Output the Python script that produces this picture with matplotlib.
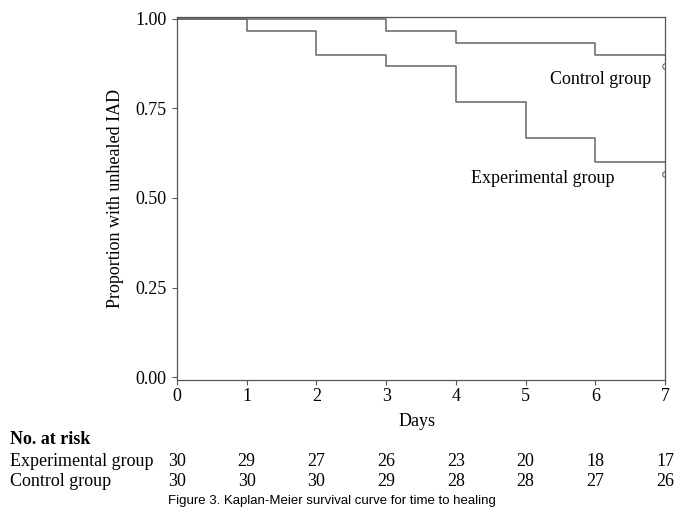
import matplotlib
matplotlib.use("Agg")
from matplotlib import pyplot as plt
import matplotlib.transforms as mtransforms

# 数据：天数与两组的生存比例
days = [0, 1, 2, 3, 4, 5, 6, 7]
exp_surv = [1.0, 0.967, 0.9, 0.867, 0.767, 0.667, 0.6, 0.567]
ctrl_surv = [1.0, 1.0, 1.0, 0.967, 0.933, 0.933, 0.9, 0.867]
exp_risk = [30, 29, 27, 26, 23, 20, 18, 17]
ctrl_risk = [30, 30, 30, 29, 28, 28, 27, 26]
y_ticks = [0.0, 0.25, 0.5, 0.75, 1.0]

serif = "Liberation Serif"
line_col = "#666666"


def fx(px):
    return px / 685.0


def fy(py):
    return 1 - py / 513.0


fig = plt.figure(figsize=(6.85, 5.13), dpi=100)
ax = fig.add_axes([0.2584, 0.2593, 0.7124, 0.7076])

# 最后一天只画删失点，阶梯走到 7
ax.step(days[:-1] + [7], exp_surv[:-1] + [exp_surv[-2]], where='post', color=line_col, lw=1.1)
ax.step(days[:-1] + [7], ctrl_surv[:-1] + [ctrl_surv[-2]], where='post', color=line_col, lw=1.1)
ax.plot([7, 7], [exp_surv[-1], ctrl_surv[-1]], ls='none', marker='o', ms=4,
        mfc='none', mec=line_col, mew=0.8)

ax.set_xlim(0, 7)
ax.set_ylim(-0.008, 1.005)
ax.set_xticks(days)
ax.set_yticks(y_ticks)
ax.set_yticklabels(["%.2f" % v for v in y_ticks], fontfamily=serif, fontsize=13)
ax.set_xticklabels([str(d) for d in days], fontfamily=serif, fontsize=13)
ax.tick_params(axis='both', direction='out', length=3.5, width=0.8, color='#555555')
ax.tick_params(axis='x', pad=2)
ax.tick_params(axis='y', pad=4)
for s in ax.spines.values():
    s.set_color('#555555')
    s.set_linewidth(0.9)

ax.set_ylabel("Proportion with unhealed IAD", fontfamily=serif, fontsize=13, labelpad=8)
ax.text(6.08, 0.83, "Control group", fontfamily=serif, fontsize=13, ha='center', va='center')
ax.text(5.25, 0.555, "Experimental group", fontfamily=serif, fontsize=13, ha='center', va='center')

# 横轴标题和风险人数表
fig.text(fx(417), fy(421), "Days", fontfamily=serif, fontsize=13, ha='center', va='center')
fig.text(fx(10), fy(440), "No. at risk", fontfamily=serif, fontsize=13, fontweight='bold',
         ha='left', va='center')
fig.text(fx(10), fy(461), "Experimental group", fontfamily=serif, fontsize=13, ha='left', va='center')
fig.text(fx(10), fy(481), "Control group", fontfamily=serif, fontsize=13, ha='left', va='center')

trans = mtransforms.blended_transform_factory(ax.transData, fig.transFigure)
for i, d in enumerate(days):
    fig.text(d, fy(461), str(exp_risk[i]), transform=trans, fontfamily=serif, fontsize=13,
             ha='center', va='center')
    fig.text(d, fy(481), str(ctrl_risk[i]), transform=trans, fontfamily=serif, fontsize=13,
             ha='center', va='center')

fig.text(fx(168), fy(501), "Figure 3. Kaplan-Meier survival curve for time to healing",
         fontfamily="Liberation Sans", fontsize=9.5, ha='left', va='center')

fig.savefig("out.png", dpi=100)
